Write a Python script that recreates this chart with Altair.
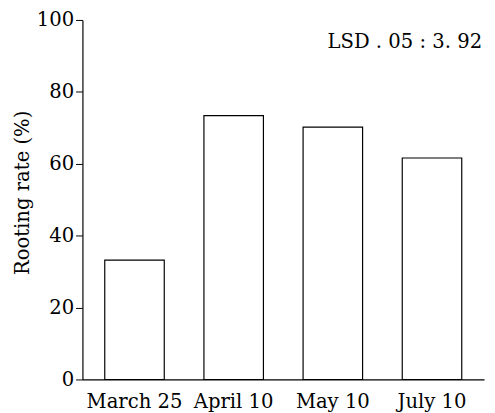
import altair as alt
import pandas as pd

categories = ["March 25", "April 10", "May 10", "July 10"]
rooting_rate = [33.2, 73.4, 70.2, 61.6]
y_ticks = [0, 20, 40, 60, 80, 100]
annotation = ["LSD . 05 : 3. 92"]
y_title = "Rooting rate (%)"

df = pd.DataFrame({"date": categories, "rate": rooting_rate})
ann = pd.DataFrame({"label": annotation})

FONT = "DejaVu Serif"

bars = alt.Chart(df).mark_bar(fill="white", stroke="black", strokeWidth=1.2).encode(
    x=alt.X("date:N", sort=categories,
            scale=alt.Scale(paddingInner=0.4, paddingOuter=0.225),
            axis=alt.Axis(title=None, labelAngle=0, ticks=False, labelPadding=13,
                          labelFontSize=20, labelFont=FONT, labelColor="black",
                          domainColor="black", domainWidth=1.2)),
    y=alt.Y("rate:Q", scale=alt.Scale(domain=[0, 100], nice=False),
            axis=alt.Axis(title=y_title, values=y_ticks, grid=False, tickSize=7,
                          tickColor="black", domainColor="black", domainWidth=1.2,
                          labelFontSize=20, labelFont=FONT, labelColor="black",
                          labelPadding=2, titleFont=FONT, titleFontSize=20,
                          titleFontWeight="normal", titleColor="black", titlePadding=4,
                          titleY=176)),
)

text = alt.Chart(ann).mark_text(align="right", baseline="middle", font=FONT,
                                fontSize=20, color="black").encode(
    text="label:N",
    x=alt.value(408),
    y=alt.value(23),
)

chart = (bars + text).properties(
    width=410, height=367,
    autosize=alt.AutoSizeParams(type="none"),
    padding={"left": 76, "top": 8, "right": 3, "bottom": 30},
).configure_view(stroke=None)

chart.save("out.html", embed_options={"renderer": "svg", "actions": False})
